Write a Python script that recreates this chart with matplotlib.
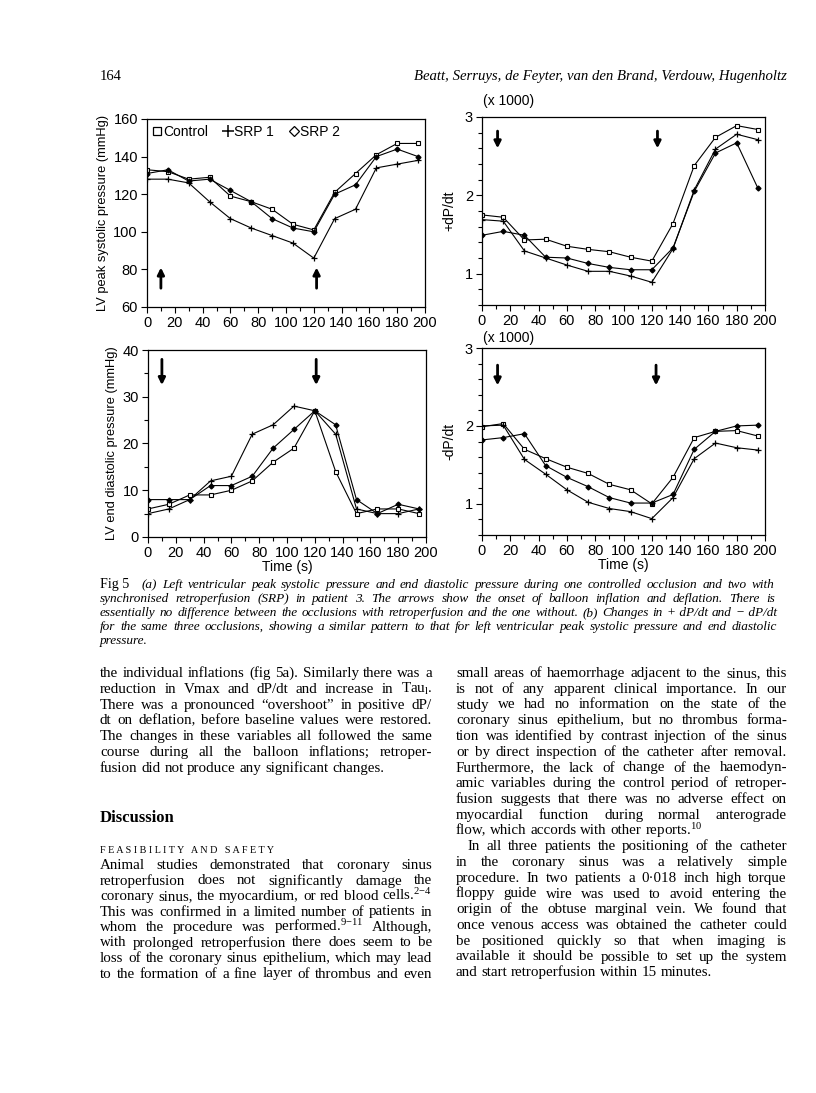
import numpy as np
import matplotlib
matplotlib.use("Agg")
import matplotlib.pyplot as plt
from matplotlib.lines import Line2D
from matplotlib.ticker import MultipleLocator

plt.rcParams['mathtext.fontset'] = 'custom'
plt.rcParams['mathtext.rm'] = 'Liberation Serif'
plt.rcParams['mathtext.it'] = 'Liberation Serif:italic'

# time points (s)
time = [0, 15, 30, 45, 60, 75, 90, 105, 120, 135, 150, 165, 180, 195]

# (a) LV peak systolic pressure (mmHg)
psp_control = [133, 132, 128, 129, 119, 116, 112, 104, 101, 121, 131, 141, 147, 147]
psp_srp1 = [128, 128, 126, 116, 107, 102, 98, 94, 86, 107, 112, 134, 136, 138]
psp_srp2 = [131, 133, 127, 128, 122, 116, 107, 102, 100, 120, 125, 140, 144, 140]

# (a) LV end diastolic pressure (mmHg)
edp_control = [6, 7, 9, 9, 10, 12, 16, 19, 27, 14, 5, 6, 6, 5]
edp_srp1 = [5, 6, 8, 12, 13, 22, 24, 28, 27, 22, 6, 5, 5, 6]
edp_srp2 = [8, 8, 8, 11, 11, 13, 19, 23, 27, 24, 8, 5, 7, 6]

# (b) +dP/dt (x1000)
pdp_control = [1.75, 1.72, 1.43, 1.44, 1.35, 1.31, 1.28, 1.21, 1.16, 1.64, 2.38, 2.74, 2.89, 2.84]
pdp_srp1 = [1.69, 1.67, 1.29, 1.20, 1.11, 1.03, 1.03, 0.97, 0.89, 1.32, 2.07, 2.59, 2.78, 2.71]
pdp_srp2 = [1.49, 1.54, 1.49, 1.21, 1.20, 1.13, 1.08, 1.05, 1.05, 1.33, 2.05, 2.54, 2.67, 2.09]

# (b) -dP/dt (x1000)
ndp_control = [1.99, 2.03, 1.70, 1.58, 1.47, 1.39, 1.25, 1.18, 1.00, 1.34, 1.85, 1.93, 1.94, 1.87]
ndp_srp1 = [2.00, 2.01, 1.57, 1.38, 1.18, 1.02, 0.94, 0.90, 0.81, 1.08, 1.58, 1.78, 1.72, 1.69]
ndp_srp2 = [1.82, 1.85, 1.90, 1.49, 1.34, 1.22, 1.08, 1.01, 1.01, 1.12, 1.70, 1.93, 2.00, 2.01]

# page text
caption = [
    '(a) Left ventricular peak systolic pressure and end diastolic pressure during one controlled occlusion and two with',
    'synchronised retroperfusion (SRP) in patient 3. The arrows show the onset of balloon inflation and deflation. There is',
    'essentially no difference between the occlusions with retroperfusion and the one without. (b) Changes in +\u00a0dP/dt and \u2212\u00a0dP/dt',
    'for the same three occlusions, showing a similar pattern to that for left ventricular peak systolic pressure and end diastolic',
    'pressure.',
]
left1 = [
    'the individual inflations (fig 5a). Similarly there was a',
    r'reduction in Vmax and dP/dt and increase in Tau$_{\mathrm{l}}$.',
    'There was a pronounced \u201covershoot\u201d in positive dP/',
    'dt on deflation, before baseline values were restored.',
    'The changes in these variables all followed the same',
    'course during all the balloon inflations; retroper-',
    'fusion did not produce any significant changes.',
]
left2 = [
    'Animal studies demonstrated that coronary sinus',
    'retroperfusion does not significantly damage the',
    r'coronary sinus, the myocardium, or red blood cells.$^{2\mathrm{-}4}$',
    'This was confirmed in a limited number of patients in',
    r'whom the procedure was performed.$^{9\mathrm{-}11}$ Although,',
    'with prolonged retroperfusion there does seem to be',
    'loss of the coronary sinus epithelium, which may lead',
    'to the formation of a fine layer of thrombus and even',
]
right = [
    'small areas of haemorrhage adjacent to the sinus, this',
    'is not of any apparent clinical importance. In our',
    'study we had no information on the state of the',
    'coronary sinus epithelium, but no thrombus forma-',
    'tion was identified by contrast injection of the sinus',
    'or by direct inspection of the catheter after removal.',
    'Furthermore, the lack of change of the haemodyn-',
    'amic variables during the control period of retroper-',
    'fusion suggests that there was no adverse effect on',
    'myocardial function during normal anterograde',
    r'flow, which accords with other reports.$^{10}$',
    'In all three patients the positioning of the catheter',
    'in the coronary sinus was a relatively simple',
    'procedure. In two patients a 0\u00b7018 inch high torque',
    'floppy guide wire was used to avoid entering the',
    'origin of the obtuse marginal vein. We found that',
    'once venous access was obtained the catheter could',
    'be positioned quickly so that when imaging is',
    'available it should be possible to set up the system',
    'and start retroperfusion within 15 minutes.',
]

W, H = 816, 1093
fig = plt.figure(figsize=(W / 100, H / 100), dpi=100)
fig.patch.set_facecolor('white')

SANS = 'Liberation Sans'
SERIF = 'Liberation Serif'


def px(x, y):
    return x / W, 1 - y / H


def axes_px(l, t, r, b):
    return fig.add_axes([l / W, 1 - b / H, (r - l) / W, (b - t) / H])


def style_axes(ax, ylim, ymaj, ymin=None):
    ax.set_xlim(0, 200)
    ax.set_ylim(*ylim)
    ax.xaxis.set_major_locator(MultipleLocator(20))
    ax.xaxis.set_minor_locator(MultipleLocator(10))
    ax.yaxis.set_major_locator(MultipleLocator(ymaj))
    if ymin:
        ax.yaxis.set_minor_locator(MultipleLocator(ymin))
    ax.tick_params(which='both', direction='out', width=0.8, labelsize=10.5, pad=2.5)
    ax.tick_params(which='major', length=4)
    ax.tick_params(which='minor', length=3)
    for sp in ax.spines.values():
        sp.set_linewidth(0.9)
    for lab in ax.get_xticklabels() + ax.get_yticklabels():
        lab.set_fontfamily(SANS)


def draw_series(ax, c, s1, s2):
    ax.plot(time, c, color='k', lw=0.8, marker='s', ms=3.2, mfc='white', mec='k', mew=0.8)
    ax.plot(time, s1, color='k', lw=0.8, marker='+', ms=4, mew=0.9)
    ax.plot(time, s2, color='k', lw=0.8, marker='D', ms=2.5, mfc='k', mec='k')


def arrow(ax, x, y0, y1):
    ax.annotate('', xy=(x, y1), xytext=(x, y0),
                arrowprops=dict(arrowstyle='-|>', color='k', lw=2, mutation_scale=10,
                                shrinkA=0, shrinkB=0))


# panel a top
ax1 = axes_px(147, 119, 425, 307)
draw_series(ax1, psp_control, psp_srp1, psp_srp2)
style_axes(ax1, (60, 160), 20)
ax1.set_ylabel('LV peak systolic pressure (mmHg)', fontsize=9.3, family=SANS, labelpad=3)
arrow(ax1, 10, 70, 81)
arrow(ax1, 122, 70, 81)
handles = [Line2D([], [], ls='none', marker='s', ms=5.5, mfc='white', mec='k', mew=0.9),
           Line2D([], [], ls='none', marker='+', ms=9, mec='k', mew=1.1),
           Line2D([], [], ls='none', marker='D', ms=5, mfc='white', mec='k', mew=0.9)]
leg = ax1.legend(handles, ['Control', 'SRP 1', 'SRP 2'], loc='upper left', ncol=3,
                 frameon=False, handlelength=0.6, handletextpad=0.15, columnspacing=1.1,
                 prop={'family': SANS, 'size': 10}, borderaxespad=0.25, borderpad=0.2)

# panel b top
ax2 = axes_px(482, 117, 765, 305)
draw_series(ax2, pdp_control, pdp_srp1, pdp_srp2)
style_axes(ax2, (0.6, 3), 1, 0.2)
ax2.set_ylabel('+dP/dt', fontsize=10, family=SANS, labelpad=6)
arrow(ax2, 11, 2.82, 2.6)
arrow(ax2, 124, 2.82, 2.6)
fig.text(*px(483, 101), '(x 1000)', fontsize=10, family=SANS, va='center', ha='left')

# panel a bottom
ax3 = axes_px(148, 350, 426, 537)
draw_series(ax3, edp_control, edp_srp1, edp_srp2)
style_axes(ax3, (0, 40), 10, 5)
ax3.set_ylabel('LV end diastolic pressure (mmHg)', fontsize=9.3, family=SANS, labelpad=3)
ax3.set_xlabel('Time (s)', fontsize=10, family=SANS, labelpad=0)
arrow(ax3, 10, 38, 32.5)
arrow(ax3, 121, 38, 32.5)

# panel b bottom
ax4 = axes_px(482, 348, 765, 535)
draw_series(ax4, ndp_control, ndp_srp1, ndp_srp2)
style_axes(ax4, (0.6, 3), 1, 0.2)
ax4.set_ylabel('-dP/dt', fontsize=10, family=SANS, labelpad=6)
ax4.set_xlabel('Time (s)', fontsize=10, family=SANS, labelpad=0)
arrow(ax4, 11, 2.78, 2.52)
arrow(ax4, 123, 2.78, 2.52)
fig.text(*px(483, 338), '(x 1000)', fontsize=10, family=SANS, va='center', ha='left')

renderer = fig.canvas.get_renderer()


def natural_width(s, size, style='normal'):
    t = fig.text(0, 0, s, fontsize=size, family=SERIF, style=style)
    w = t.get_window_extent(renderer).width
    t.remove()
    return w


def fit_size(lines, widths, style='normal'):
    # largest size at which every justified line still fits its measure
    return min(10 * w / natural_width(s, 10, style) for s, w in zip(lines, widths)) * 0.985


def put_line(s, x0, x1, y, justify=True, size=10.2, style='normal', weight='normal'):
    words = s.split(' ')
    ts = [fig.text(0, 0, w, fontsize=size, family=SERIF, style=style, weight=weight,
                   va='baseline', ha='left') for w in words]
    widths = [t.get_window_extent(renderer).width for t in ts]
    if justify and len(words) > 1:
        gap = (x1 - x0 - sum(widths)) / (len(words) - 1)
    else:
        gap = size * 100 / 72 * 0.25
    x = x0
    for t, w in zip(ts, widths):
        t.set_position(px(x, y))
        x += w + gap


# header
fig.text(*px(100, 80), '164', fontsize=10.5, family=SERIF, va='baseline', ha='left')
fig.text(*px(787, 80), 'Beatt, Serruys, de Feyter, van den Brand, Verdouw, Hugenholtz',
         fontsize=10.6, family=SERIF, style='italic', va='baseline', ha='right')

# caption
cap_x0 = [142, 100, 100, 100]
cap_x1 = [774, 775, 777, 777]
csize = fit_size(caption[:4], [b - a for a, b in zip(cap_x0, cap_x1)], 'italic')
fig.text(*px(100, 588), 'Fig 5', fontsize=csize + 0.5, family=SERIF, va='baseline', ha='left')
for i, line in enumerate(caption):
    if i < 4:
        put_line(line, cap_x0[i], cap_x1[i], 588 + i * 14, size=csize, style='italic')
    else:
        put_line(line, 100, 0, 588 + i * 14, justify=False, size=csize, style='italic')

# body columns
just = left1[:-1] + left2 + right[:10] + right[11:19]
bsize = fit_size(just, [332] * len(just))

for i, line in enumerate(left1):
    put_line(line, 100, 432, 677 + i * 15.8, justify=(i < len(left1) - 1), size=bsize)

fig.text(*px(100, 822), 'Discussion', fontsize=12, family=SERIF, weight='bold',
         va='baseline', ha='left')
fig.text(*px(100, 853), 'F E A S I B I L I T Y   A N D   S A F E T Y', fontsize=7.3,
         family=SERIF, va='baseline', ha='left')

for i, line in enumerate(left2):
    put_line(line, 100, 432, 869 + i * 15.5, size=bsize)

for i, line in enumerate(right):
    x0 = 468 if i == 11 else 456
    put_line(line, x0, 787, 677 + i * 15.75, justify=(i not in (10, 19)), size=bsize)

fig.savefig('out.png', dpi=100, facecolor='white')
